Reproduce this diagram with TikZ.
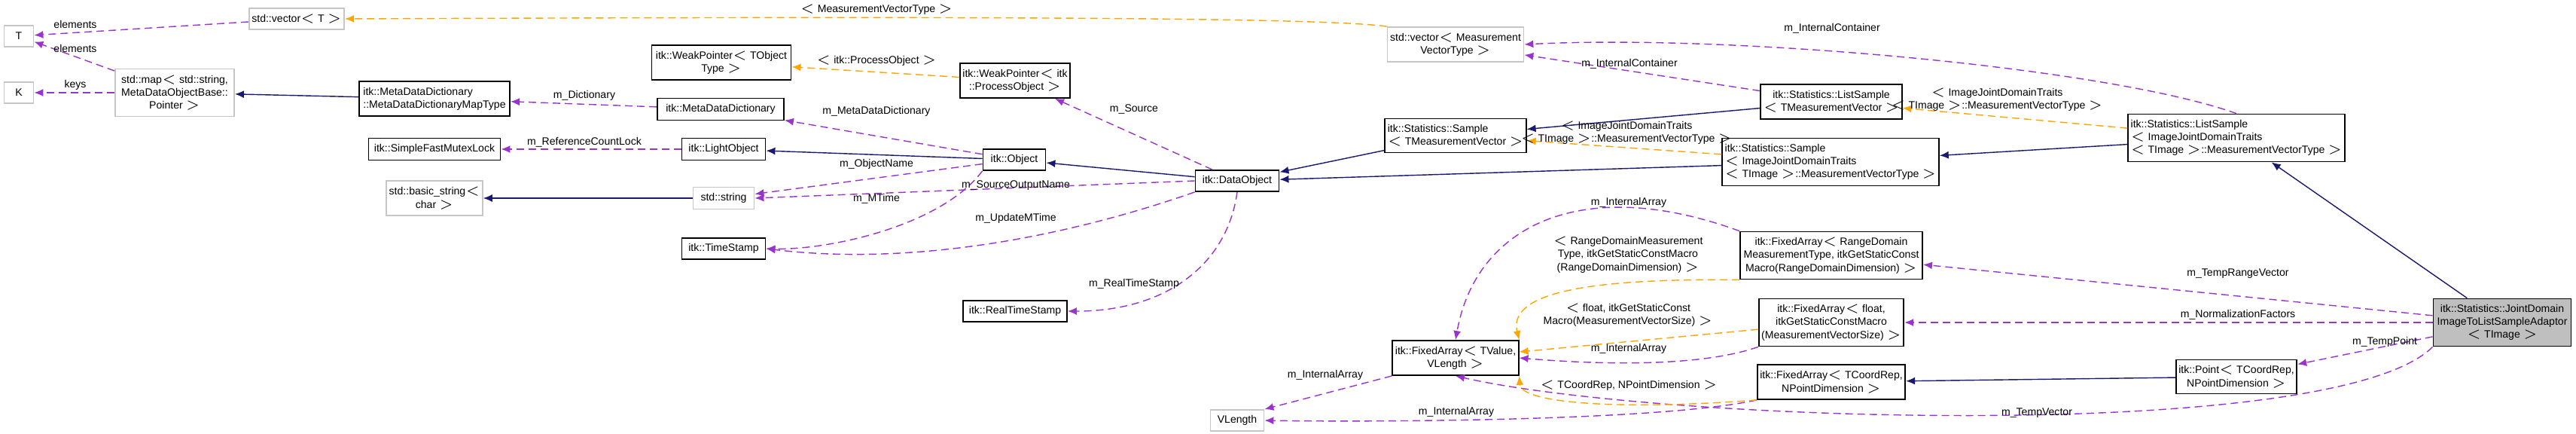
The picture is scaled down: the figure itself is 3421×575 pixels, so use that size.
\documentclass[tikz,border=0pt]{standalone}
\usepackage{fontspec}
\setmainfont{Liberation Sans}
\usetikzlibrary{arrows.meta}
\definecolor{navy}{HTML}{191970}
\definecolor{purp}{HTML}{9A32CD}
\definecolor{orng}{HTML}{FFA500}
\tikzstyle{cls} = [rectangle, draw=black, fill=white, line width=0.5pt, inner sep=1pt, align=center, font=\fontsize{4}{4.9}\selectfont]
\tikzstyle{ext} = [cls, draw=gray!45]
\tikzstyle{top} = [cls, fill=gray!50]
\tikzstyle{lbl} = [inner sep=0pt, font=\fontsize{4}{4.9}\selectfont, align=center]
\tikzstyle{inherit} = [draw=navy, line width=0.4pt, -{Latex[length=1.2mm,width=1mm]}]
\tikzstyle{member} = [draw=purp, line width=0.4pt, dash pattern=on 1mm off 0.6mm, -{Latex[length=1.2mm,width=1mm]}]
\tikzstyle{tmpl} = [draw=orng, line width=0.4pt, dash pattern=on 1mm off 0.6mm, -{Latex[length=1.2mm,width=1mm]}]
\begin{document}
\begin{tikzpicture}[x=0.01cm, y=-0.01cm]
\useasboundingbox (0,0) rectangle (3421,575);

% classes
\node (T) [ext, minimum width=0.39cm, minimum height=0.28cm] at (25,48) {T};
\node (K) [ext, minimum width=0.39cm, minimum height=0.28cm] at (25,123) {K};
\node (vecT) [ext, minimum width=1.16cm, minimum height=0.28cm] at (394,25) {std::vector$<$ T $>$};
\node (map) [ext, minimum width=1.58cm, minimum height=0.63cm] at (232,123) {std::map$<$ std::string,\\ MetaDataObjectBase::\\Pointer $>$};
\node (maptype) [cls, minimum width=2cm, minimum height=0.46cm, align=left] at (577,131) {itk::MetaDataDictionary\\::MetaDataDictionaryMapType};
\node (mutex) [cls, minimum width=1.75cm, minimum height=0.29cm] at (577,198) {itk::SimpleFastMutexLock};
\node (bstring) [ext, minimum width=1.27cm, minimum height=0.46cm] at (577,263) {std::basic\_string$<$\\char $>$};
\node (wptobj) [cls, minimum width=1.85cm, minimum height=0.46cm] at (958,83) {itk::WeakPointer$<$ TObject\\Type $>$};
\node (mdd) [cls, minimum width=1.68cm, minimum height=0.29cm] at (957,145) {itk::MetaDataDictionary};
\node (light) [cls, minimum width=1.11cm, minimum height=0.29cm] at (961,198) {itk::LightObject};
\node (string) [ext, minimum width=0.81cm, minimum height=0.29cm] at (961,263) {std::string};
\node (stamp) [cls, minimum width=1.11cm, minimum height=0.28cm] at (961,330) {itk::TimeStamp};
\node (wpproc) [cls, minimum width=1.46cm, minimum height=0.46cm] at (1348,107) {itk::WeakPointer$<$ itk\\::ProcessObject $>$};
\node (object) [cls, minimum width=0.83cm, minimum height=0.28cm] at (1347,212) {itk::Object};
\node (dataobj) [cls, minimum width=1.11cm, minimum height=0.28cm] at (1643,240) {itk::DataObject};
\node (rstamp) [cls, minimum width=1.38cm, minimum height=0.28cm] at (1348,413) {itk::RealTimeStamp};
\node (vlength) [ext, minimum width=0.71cm, minimum height=0.28cm] at (1643,558) {VLength};
\node (vecmv) [ext, minimum width=1.74cm, minimum height=0.46cm] at (1933,59) {std::vector$<$ Measurement\\VectorType $>$};
\node (lstmv) [cls, minimum width=1.72cm, minimum height=0.46cm] at (2432,135) {itk::Statistics::ListSample\\$<$ TMeasurementVector $>$};
\node (smptmv) [cls, minimum width=1.70cm, minimum height=0.45cm, align=left] at (1933,180) {itk::Statistics::Sample\\$<$ TMeasurementVector $>$};
\node (smpij) [cls, minimum width=2.55cm, minimum height=0.63cm, align=left] at (2431,215) {itk::Statistics::Sample\\$<$ ImageJointDomainTraits\\$<$ TImage $>$::MeasurementVectorType $>$};
\node (farange) [cls, minimum width=2.42cm, minimum height=0.63cm] at (2432,339) {itk::FixedArray$<$ RangeDomain\\MeasurementType, itkGetStaticConst\\Macro(RangeDomainDimension) $>$};
\node (fafloat) [cls, minimum width=1.84cm, minimum height=0.63cm] at (2432,428) {itk::FixedArray$<$ float,\\itkGetStaticConstMacro\\(MeasurementVectorSize) $>$};
\node (fatval) [cls, minimum width=1.64cm, minimum height=0.46cm] at (1933,475) {itk::FixedArray$<$ TValue,\\VLength $>$};
\node (facoord) [cls, minimum width=1.90cm, minimum height=0.46cm] at (2432,507) {itk::FixedArray$<$ TCoordRep,\\NPointDimension $>$};
\node (lstij) [cls, minimum width=2.56cm, minimum height=0.63cm, align=left] at (2970,183) {itk::Statistics::ListSample\\$<$ ImageJointDomainTraits\\$<$ TImage $>$::MeasurementVectorType $>$};
\node (adaptor) [top, minimum width=1.83cm, minimum height=0.63cm] at (3323,428) {itk::Statistics::JointDomain\\ImageToListSampleAdaptor\\$<$ TImage $>$};
\node (point) [cls, minimum width=1.57cm, minimum height=0.45cm] at (2970,500) {itk::Point$<$ TCoordRep,\\NPointDimension $>$};

% inheritance
\draw [inherit] (maptype) -- (map);
\draw [inherit] (string) -- (bstring);
\draw [inherit] (object) -- (light);
\draw [inherit] (dataobj) -- (object);
\draw [inherit] (smptmv) -- (dataobj);
\draw [inherit] (smpij) -- (dataobj);
\draw [inherit] (lstmv) -- (smptmv);
\draw [inherit] (lstij) -- (smpij);
\draw [inherit] (adaptor) -- (lstij);
\draw [inherit] (point) -- (facoord);

% members
\draw [member] (vecT) -- (T);
\draw [member] (map) -- (T);
\draw [member] (map) -- (K);
\draw [member] (mdd) -- (maptype);
\draw [member] (light) -- (mutex);
\draw [member] (object) -- (mdd);
\draw [member] (object) -- (string);
\draw [member] (object.south west) .. controls (1250,300) and (1100,332) .. (stamp.east);
\draw [member] (dataobj) -- (wpproc);
\draw [member] (dataobj.west) -- (string.east);
\draw [member] (dataobj.south west) .. controls (1400,320) and (1200,352) .. (stamp.east);
\draw [member] (dataobj.south) .. controls (1630,350) and (1550,413) .. (rstamp.east);
\draw [member] (lstmv) -- (vecmv);
\draw [member] (lstij.north) .. controls (2800,90) and (2300,45) .. (vecmv.east);
\draw [member] (farange.north west) .. controls (2100,230) and (1960,300) .. (fatval.north);
\draw [member] (fafloat.south west) .. controls (2250,490) and (2100,482) .. (fatval.east);
\draw [member] (facoord.south west) .. controls (2200,560) and (1800,560) .. (vlength.east);
\draw [member] (fatval.south west) -- (vlength.north east);
\draw [member] (adaptor) -- (farange);
\draw [member] (adaptor) -- (fafloat);
\draw [member] (adaptor) -- (point);
\draw [member] (adaptor.south west) .. controls (3100,590) and (2200,560) .. (fatval.south);

% template instances
\draw [tmpl] (vecmv.north west) .. controls (1750,22) and (1200,22) .. (vecT.east);
\draw [tmpl] (wpproc) -- (wptobj);
\draw [tmpl] (smpij) -- (smptmv);
\draw [tmpl] (lstij) -- (lstmv);
\draw [tmpl] (farange.south west) .. controls (2150,370) and (2000,380) .. (fatval.north east);
\draw [tmpl] (fafloat) -- (fatval);
\draw [tmpl] (facoord.south west) .. controls (2150,545) and (2020,535) .. (fatval.south east);

% labels
\node (l1) [lbl] at (100,32) {elements};
\node (l2) [lbl] at (100,64) {elements};
\node (l3) [lbl] at (100,113) {keys};
\node (l4) [lbl] at (776,127) {m\_Dictionary};
\node (l5) [lbl] at (776,189) {m\_ReferenceCountLock};
\node (l6) [lbl] at (1164,148) {m\_MetaDataDictionary};
\node (l7) [lbl] at (1164,218) {m\_ObjectName};
\node (l8) [lbl] at (1164,264) {m\_MTime};
\node (l9) [lbl] at (1506,145) {m\_Source};
\node (l10) [lbl] at (1349,246) {m\_SourceOutputName};
\node (l11) [lbl] at (1349,290) {m\_UpdateMTime};
\node (l12) [lbl] at (1506,377) {m\_RealTimeStamp};
\node (l13) [lbl] at (2433,38) {m\_InternalContainer};
\node (l14) [lbl] at (2164,85) {m\_InternalContainer};
\node (l15) [lbl] at (2163,269) {m\_InternalArray};
\node (l16) [lbl] at (2163,463) {m\_InternalArray};
\node (l17) [lbl] at (1760,498) {m\_InternalArray};
\node (l18) [lbl] at (1934,547) {m\_InternalArray};
\node (l19) [lbl] at (2972,363) {m\_TempRangeVector};
\node (l20) [lbl] at (2972,418) {m\_NormalizationFactors};
\node (l21) [lbl] at (3167,454) {m\_TempPoint};
\node (l22) [lbl] at (2705,548) {m\_TempVector};
\node (l23) [lbl] at (1164,13) {$<$ MeasurementVectorType $>$};
\node (l24) [lbl] at (1164,81) {$<$ itk::ProcessObject $>$};
\node (l25) [lbl] at (2160,176) {$<$ ImageJointDomainTraits\\$<$ TImage $>$::MeasurementVectorType $>$};
\node (l26) [lbl] at (2652,132) {$<$ ImageJointDomainTraits\\$<$ TImage $>$::MeasurementVectorType $>$};
\node (l27) [lbl] at (2162,338) {$<$ RangeDomainMeasurement\\Type, itkGetStaticConstMacro\\(RangeDomainDimension) $>$};
\node (l28) [lbl] at (2162,418) {$<$ float, itkGetStaticConst\\Macro(MeasurementVectorSize) $>$};
\node (l29) [lbl] at (2163,512) {$<$ TCoordRep, NPointDimension $>$};

\end{tikzpicture}
\end{document}
